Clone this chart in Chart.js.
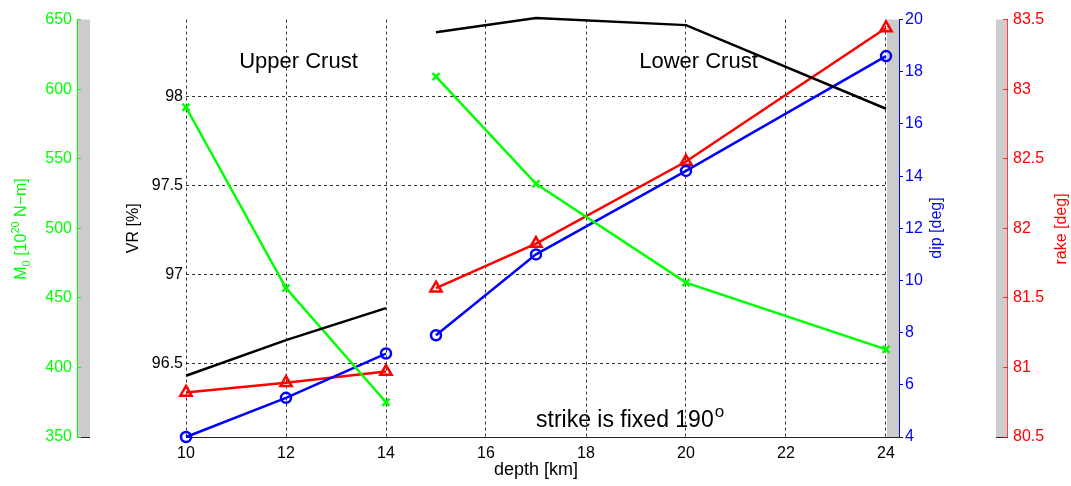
<!DOCTYPE html>
<html>
<head>
<meta charset="utf-8">
<script src="https://cdn.jsdelivr.net/npm/chart.js@4/dist/chart.umd.min.js"></script>
<style>
  html, body { margin: 0; padding: 0; background: #fff; }
  #wrap { width: 1071px; height: 486px; }
</style>
</head>
<body>
<div id="wrap"><canvas id="chart-crust" width="1071" height="486"></canvas></div>
<script>
// valori
const depthUpper = [10, 12, 14];
const depthLower = [15, 17, 20, 24];

const vrUpper = [96.43, 96.63, 96.81];
const vrLower = [98.36, 98.44, 98.40, 97.93];
const m0Upper = [587, 457, 375];
const m0Lower = [609, 532, 461, 413];
const dipUpper = [4.0, 5.5, 7.2];
const dipLower = [7.9, 11.0, 14.2, 18.6];
const rakeUpper = [80.82, 80.89, 80.97];
const rakeLower = [81.57, 81.89, 82.48, 83.44];

// tick
const depthTicks = [10, 12, 14, 16, 18, 20, 22, 24];
const vrTicks = [96.5, 97, 97.5, 98];
const m0Ticks = [350, 400, 450, 500, 550, 600, 650];
const dipTicks = [4, 6, 8, 10, 12, 14, 16, 18, 20];
const rakeTicks = [80.5, 81, 81.5, 82, 82.5, 83, 83.5];

const FAMILY = "'Liberation Sans', Arial, Helvetica, sans-serif";
const tickFont = { family: FAMILY, size: 16 };
const GREEN = '#00ff00', BLUE = '#0000ff', RED = '#ff0000';

function punti(xs, ys) {
    return xs.map((x, i) => ({ x: x, y: ys[i] }));
}

function serie(xs, ys, axis, color, style, radius) {
    return {
        data: punti(xs, ys),
        yAxisID: axis,
        borderColor: color,
        backgroundColor: 'transparent',
        borderWidth: 2.5,
        pointStyle: style,
        pointRadius: radius,
        pointBorderWidth: 2.5,
        pointBorderColor: color,
        pointBackgroundColor: 'transparent',
        tension: 0,
        clip: false
    };
}

function fissaTick(list) {
    return s => { s.ticks = list.map(v => ({ value: v })); };
}

// barre grigie, testi e titoli degli assi
const decorPlugin = {
    id: 'decor',
    beforeDatasetsDraw(chart) {
        const { ctx, chartArea: a, scales } = chart;
        const bars = [
            [scales.m0.right, scales.m0.right + 13],
            [scales.x.getPixelForValue(24) + 1, scales.dip.left],
            [scales.rake.left - 11, scales.rake.left]
        ];
        ctx.save();
        bars.forEach(([l, r]) => {
            ctx.fillStyle = '#cccccc';
            ctx.fillRect(l, a.top, r - l, a.bottom - a.top);
            ctx.strokeStyle = '#222';
            ctx.lineWidth = 1;
            ctx.beginPath();
            ctx.moveTo(l, a.bottom + 0.5);
            ctx.lineTo(r, a.bottom + 0.5);
            ctx.stroke();
        });
        ctx.restore();
    },
    afterDraw(chart) {
        const { ctx, chartArea: a, scales } = chart;
        const sx = scales.x, sy = scales.vr;
        ctx.save();
        ctx.fillStyle = '#000';
        ctx.textBaseline = 'alphabetic';
        ctx.textAlign = 'center';
        ctx.font = '22px ' + FAMILY;
        ctx.fillText('Upper Crust', sx.getPixelForValue(12.25), sy.getPixelForValue(98.16));
        ctx.fillText('Lower Crust', sx.getPixelForValue(20.25), sy.getPixelForValue(98.16));

        // strike is fixed 190°
        ctx.textAlign = 'left';
        ctx.font = '23px ' + FAMILY;
        const txt = 'strike is fixed 190';
        const x0 = sx.getPixelForValue(17.0);
        const y0 = sy.getPixelForValue(96.14);
        ctx.fillText(txt, x0, y0);
        const w = ctx.measureText(txt).width;
        ctx.font = '17px ' + FAMILY;
        ctx.fillText('o', x0 + w + 1, y0 - 10);

        // depth [km]
        ctx.textAlign = 'center';
        ctx.textBaseline = 'middle';
        ctx.font = '18px ' + FAMILY;
        ctx.fillText('depth [km]', sx.getPixelForValue(17), a.bottom + 33);

        // titoli ruotati
        function verticale(parts, cx, cy, color, baseline) {
            ctx.save();
            ctx.translate(cx, cy);
            ctx.rotate(-Math.PI / 2);
            ctx.fillStyle = color;
            ctx.textAlign = 'left';
            ctx.textBaseline = baseline;
            let tot = 0;
            parts.forEach(p => { ctx.font = p[1] + 'px ' + FAMILY; tot += ctx.measureText(p[0]).width; });
            let x = -tot / 2;
            parts.forEach(p => {
                ctx.font = p[1] + 'px ' + FAMILY;
                ctx.fillText(p[0], x, p[2]);
                x += ctx.measureText(p[0]).width;
            });
            ctx.restore();
        }
        verticale([['M', 16, 0], ['0', 11, 4], [' [10', 16, 0], ['20', 11, -7], [' N\u2212m]', 16, 0]],
            scales.m0.left + 26, 229, GREEN, 'alphabetic');
        verticale([['dip [deg]', 16, 0]], scales.dip.left + 38, 228, BLUE, 'middle');
        verticale([['rake [deg]', 16, 0]], scales.rake.left + 55, 229, RED, 'middle');
        ctx.restore();
    }
};

const datasets = [
    serie(depthUpper, vrUpper, 'vr', '#000', 'circle', 0),
    serie(depthLower, vrLower, 'vr', '#000', 'circle', 0),
    serie(depthUpper, m0Upper, 'm0', GREEN, 'crossRot', 5),
    serie(depthLower, m0Lower, 'm0', GREEN, 'crossRot', 5),
    serie(depthUpper, dipUpper, 'dip', BLUE, 'circle', 5),
    serie(depthLower, dipLower, 'dip', BLUE, 'circle', 5),
    serie(depthUpper, rakeUpper, 'rake', RED, 'triangle', 6.5),
    serie(depthLower, rakeLower, 'rake', RED, 'triangle', 6.5)
];

const ctx = document.getElementById('chart-crust').getContext('2d');
new Chart(ctx, {
    type: 'line',
    data: { datasets: datasets },
    plugins: [decorPlugin],
    options: {
        responsive: false,
        animation: false,
        layout: { padding: { top: 18, left: 0, right: 0, bottom: 0 } },
        plugins: {
            legend: { display: false },
            tooltip: { enabled: false }
        },
        scales: {
            x: {
                type: 'linear',
                min: 10,
                max: 24.26,
                afterBuildTicks: fissaTick(depthTicks),
                afterFit: s => { s.height = 49; },
                grid: { color: 'rgba(0,0,0,0.8)', drawTicks: false, lineWidth: 1 },
                border: { display: true, color: '#222', width: 1, dash: [3, 3] },
                ticks: { color: '#000', font: tickFont, padding: 7, maxRotation: 0, callback: v => String(v) }
            },
            vr: {
                type: 'linear',
                position: 'left',
                weight: 1,
                min: 96.086,
                max: 98.431,
                afterBuildTicks: fissaTick(vrTicks),
                afterFit: s => { s.width = 109; },
                grid: { color: 'rgba(0,0,0,0.8)', drawTicks: false, lineWidth: 1 },
                border: { display: false, dash: [3, 3] },
                ticks: { color: '#000', font: tickFont, padding: 3, callback: v => String(v) },
                title: {
                    display: true,
                    text: 'VR [%]',
                    color: '#000',
                    font: { family: FAMILY, size: 16 },
                    padding: { top: 47.4, bottom: 0 }
                }
            },
            m0: {
                type: 'linear',
                position: 'left',
                weight: 2,
                min: 350,
                max: 650,
                afterBuildTicks: fissaTick(m0Ticks),
                afterFit: s => { s.width = 77; },
                grid: { drawOnChartArea: false, drawTicks: true, tickLength: -4, color: GREEN, z: 1 },
                border: { display: true, color: GREEN, width: 1, z: 1 },
                ticks: { color: GREEN, font: tickFont, padding: 9, z: 1, callback: v => String(v) }
            },
            dip: {
                type: 'linear',
                position: 'right',
                weight: 1,
                min: 4,
                max: 20,
                afterBuildTicks: fissaTick(dipTicks),
                afterFit: s => { s.width = 108; },
                grid: { drawOnChartArea: false, drawTicks: true, tickLength: 4, color: BLUE, z: 1 },
                border: { display: true, color: BLUE, width: 1, z: 1 },
                ticks: { color: BLUE, font: tickFont, padding: 2, z: 1, callback: v => String(v) }
            },
            rake: {
                type: 'linear',
                position: 'right',
                weight: 2,
                min: 80.5,
                max: 83.5,
                afterBuildTicks: fissaTick(rakeTicks),
                afterFit: s => { s.width = 64; },
                grid: { drawOnChartArea: false, drawTicks: true, tickLength: -4, color: 'rgba(255,0,0,0.75)', z: 1 },
                border: { display: true, color: 'rgba(255,0,0,0.75)', width: 1, z: 1 },
                ticks: { color: RED, font: tickFont, padding: 10, z: 1, callback: v => String(v) }
            }
        }
    }
});
</script>
</body>
</html>
